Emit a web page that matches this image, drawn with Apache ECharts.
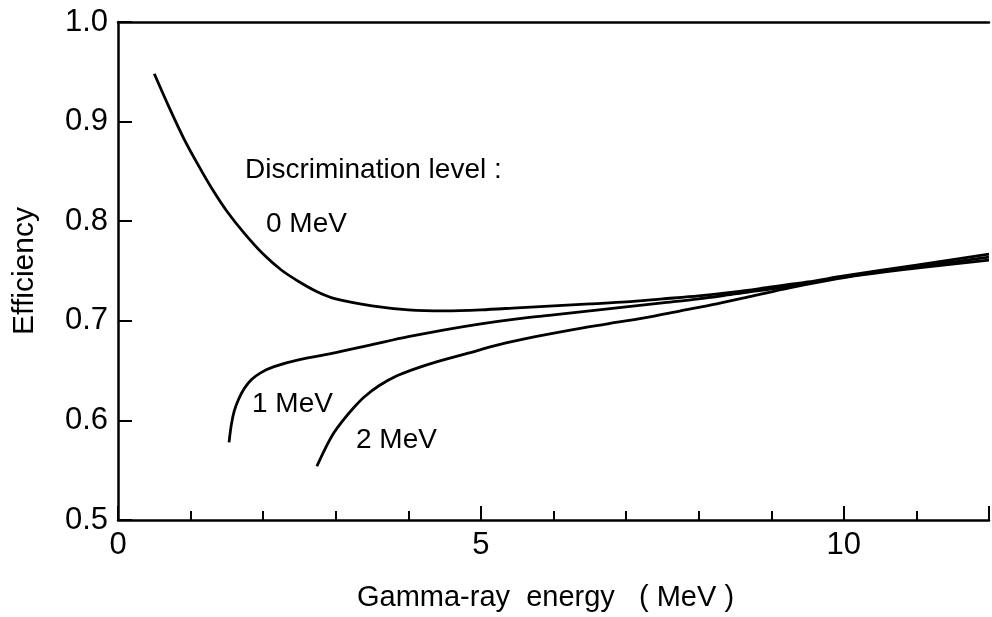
<!DOCTYPE html>
<html>
<head>
<meta charset="utf-8">
<title>Efficiency vs gamma-ray energy</title>
<script src="https://cdn.jsdelivr.net/npm/echarts@6/dist/echarts.min.js"></script>
<style>
  html, body { margin: 0; padding: 0; background: #fff; }
  #chart { width: 992px; height: 617px; }
</style>
</head>
<body>
<div id="chart"></div>
<script>
// Detection efficiency as a function of gamma-ray energy (MeV),
// one curve per discrimination level.
const level0MeV = [
  [0.5, 0.948], [0.7, 0.915], [0.9, 0.884], [1.1, 0.857], [1.3, 0.832],
  [1.5, 0.810], [1.75, 0.787], [2.0, 0.767], [2.25, 0.751], [2.5, 0.739],
  [2.75, 0.729], [3.0, 0.722], [3.5, 0.715], [4.0, 0.711], [4.5, 0.710],
  [5.0, 0.711], [5.5, 0.713], [6.0, 0.715], [6.5, 0.717], [7.0, 0.719],
  [7.5, 0.722], [8.0, 0.725], [8.5, 0.729], [9.0, 0.734], [9.5, 0.739],
  [10.0, 0.745], [11.0, 0.756], [12.0, 0.767]
];
const level1MeV = [
  [1.53, 0.578], [1.56, 0.595], [1.60, 0.609], [1.66, 0.621], [1.74, 0.632],
  [1.84, 0.641], [1.97, 0.648], [2.15, 0.654], [2.5, 0.661], [3.0, 0.668],
  [3.5, 0.676], [4.0, 0.684], [4.5, 0.691], [5.0, 0.697], [5.5, 0.702],
  [6.0, 0.706], [6.5, 0.710], [7.0, 0.714], [7.5, 0.718], [8.0, 0.722],
  [8.5, 0.727], [9.0, 0.732], [9.5, 0.738], [10.0, 0.744], [11.0, 0.754],
  [12.0, 0.764]
];
const level2MeV = [
  [2.74, 0.554], [2.85, 0.571], [2.97, 0.587], [3.1, 0.600], [3.25, 0.613],
  [3.4, 0.624], [3.6, 0.635], [3.85, 0.645], [4.1, 0.652], [4.4, 0.659],
  [4.8, 0.667], [5.25, 0.676], [5.75, 0.684], [6.25, 0.691], [6.75, 0.697],
  [7.25, 0.703], [7.75, 0.710], [8.25, 0.717], [8.75, 0.725], [9.25, 0.733],
  [9.75, 0.740], [10.25, 0.746], [11.0, 0.753], [12.0, 0.761]
];
const xLabelValues = [0, 5, 10];
const yTickLabels = ['0.5', '0.6', '0.7', '0.8', '0.9', '1.0'];

const FONT = '"Liberation Sans", Arial, sans-serif';
const INK = '#000';

const chart = echarts.init(document.getElementById('chart'), null, { renderer: 'canvas' });

function curve(name, data) {
  return {
    name: name,
    type: 'line',
    data: data,
    smooth: 0.3,
    showSymbol: false,
    symbol: 'none',
    silent: true,
    lineStyle: { color: INK, width: 2.8 },
    xAxisIndex: 0,
    yAxisIndex: 0
  };
}

chart.setOption({
  backgroundColor: '#fff',
  animation: false,
  grid: { left: 118, right: 0, top: 22, bottom: 95, containLabel: false },
  xAxis: [
    {
      type: 'value', min: 0, max: 12, interval: 1, position: 'bottom',
      name: 'Gamma-ray  energy   ( MeV )', nameLocation: 'middle', nameGap: 63,
      nameTextStyle: { color: INK, fontSize: 29, fontFamily: FONT, padding: [0, 16, 0, 0] },
      axisLine: { show: true, onZero: false, lineStyle: { color: INK, width: 2.5 } },
      axisTick: { show: true, inside: true, length: 9, lineStyle: { color: INK, width: 2 } },
      axisLabel: {
        color: INK, fontSize: 31, fontFamily: FONT, margin: 10,
        formatter: v => (xLabelValues.indexOf(v) >= 0 ? String(v) : '')
      },
      splitLine: { show: false }
    },
    {
      // longer ticks at the labelled energies
      type: 'value', min: 0, max: 12, interval: 5, position: 'bottom',
      axisLine: { show: false },
      axisTick: { show: true, inside: true, length: 14, lineStyle: { color: INK, width: 2 } },
      axisLabel: { show: false },
      splitLine: { show: false }
    },
    {
      // upper frame line
      type: 'value', min: 0, max: 12, position: 'top',
      axisLine: { show: true, onZero: false, lineStyle: { color: INK, width: 2.5 } },
      axisTick: { show: false },
      axisLabel: { show: false },
      splitLine: { show: false }
    }
  ],
  yAxis: {
    type: 'value', min: 0.5, max: 1.0, interval: 0.1,
    name: 'Efficiency', nameLocation: 'middle', nameRotate: 90, nameGap: 78,
    nameTextStyle: { color: INK, fontSize: 30, fontFamily: FONT },
    axisLine: { show: true, onZero: false, lineStyle: { color: INK, width: 2.5 } },
    axisTick: { show: true, inside: true, length: 14, lineStyle: { color: INK, width: 2 } },
    axisLabel: {
      color: INK, fontSize: 31, fontFamily: FONT, margin: 10,
      formatter: v => yTickLabels[Math.round((v - 0.5) * 10)]
    },
    splitLine: { show: false }
  },
  series: [
    curve('0 MeV', level0MeV),
    curve('1 MeV', level1MeV),
    curve('2 MeV', level2MeV)
  ],
  graphic: [
    { type: 'text', left: 245, top: 156, silent: true,
      style: { text: 'Discrimination level :', fill: INK, font: '28px ' + FONT } },
    { type: 'text', left: 266, top: 210, silent: true,
      style: { text: '0 MeV', fill: INK, font: '28px ' + FONT } },
    { type: 'text', left: 252, top: 390, silent: true,
      style: { text: '1 MeV', fill: INK, font: '28px ' + FONT } },
    { type: 'text', left: 356, top: 426, silent: true,
      style: { text: '2 MeV', fill: INK, font: '28px ' + FONT } }
  ]
});
</script>
</body>
</html>
